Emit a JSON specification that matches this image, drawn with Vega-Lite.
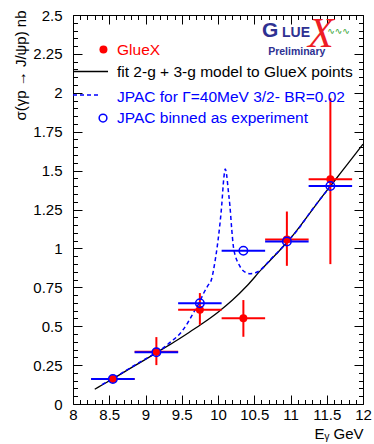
{
  "$schema": "https://vega.github.io/schema/vega-lite/v6.json",
  "width": 290,
  "height": 389,
  "autosize": {"type": "none"},
  "padding": {"left": 73, "top": 15, "right": 11, "bottom": 40},
  "background": "white",
  "config": {
    "view": {"stroke": null},
    "font": "Liberation Sans",
    "axis": {
      "grid": false,
      "domainColor": "black",
      "domainWidth": 1,
      "tickColor": "black",
      "tickWidth": 1,
      "labelColor": "black",
      "titleColor": "black",
      "labelFont": "Liberation Sans",
      "titleFont": "Liberation Sans",
      "labelFontSize": 15,
      "titleFontSize": 15,
      "titleFontWeight": "normal",
      "labelOverlap": false,
      "labelFlush": false
    }
  },
  "datasets": {
    "gluex": [
      {"E": 8.55, "sigma": 0.161, "Elo": 8.25, "Ehi": 8.85, "lo": 0.145, "hi": 0.178},
      {"E": 9.15, "sigma": 0.336, "Elo": 8.85, "Ehi": 9.45, "lo": 0.25, "hi": 0.43},
      {"E": 9.75, "sigma": 0.606, "Elo": 9.45, "Ehi": 10.05, "lo": 0.509, "hi": 0.713},
      {"E": 10.35, "sigma": 0.551, "Elo": 10.05, "Ehi": 10.65, "lo": 0.432, "hi": 0.668},
      {"E": 10.95, "sigma": 1.058, "Elo": 10.65, "Ehi": 11.25, "lo": 0.888, "hi": 1.237},
      {"E": 11.55, "sigma": 1.444, "Elo": 11.25, "Ehi": 11.85, "lo": 0.899, "hi": 1.965}
    ],
    "jpac": [
      {"E": 8.55, "sigma": 0.161, "Elo": 8.25, "Ehi": 8.85},
      {"E": 9.15, "sigma": 0.333, "Elo": 8.85, "Ehi": 9.45},
      {"E": 9.75, "sigma": 0.648, "Elo": 9.45, "Ehi": 10.05},
      {"E": 10.35, "sigma": 0.985, "Elo": 10.05, "Ehi": 10.65},
      {"E": 10.95, "sigma": 1.045, "Elo": 10.65, "Ehi": 11.25},
      {"E": 11.55, "sigma": 1.401, "Elo": 11.25, "Ehi": 11.85}
    ],
    "fit": [
      {"E": 8.3, "sigma": 0.095},
      {"E": 8.4, "sigma": 0.122},
      {"E": 8.5, "sigma": 0.149},
      {"E": 8.6, "sigma": 0.176},
      {"E": 8.8, "sigma": 0.232},
      {"E": 9.0, "sigma": 0.287},
      {"E": 9.2, "sigma": 0.343},
      {"E": 9.4, "sigma": 0.4},
      {"E": 9.6, "sigma": 0.46},
      {"E": 9.8, "sigma": 0.522},
      {"E": 10.0, "sigma": 0.59},
      {"E": 10.2, "sigma": 0.668},
      {"E": 10.4, "sigma": 0.76},
      {"E": 10.6, "sigma": 0.865},
      {"E": 10.8, "sigma": 0.962},
      {"E": 11.0, "sigma": 1.065},
      {"E": 11.2, "sigma": 1.185},
      {"E": 11.4, "sigma": 1.31},
      {"E": 11.6, "sigma": 1.43},
      {"E": 11.8, "sigma": 1.55},
      {"E": 12.0, "sigma": 1.67}
    ],
    "jpaccurve": [
      {"E": 8.4, "sigma": 0.125},
      {"E": 8.6, "sigma": 0.178},
      {"E": 8.8, "sigma": 0.235},
      {"E": 9.0, "sigma": 0.29},
      {"E": 9.2, "sigma": 0.345},
      {"E": 9.35, "sigma": 0.4},
      {"E": 9.48, "sigma": 0.455},
      {"E": 9.58, "sigma": 0.52},
      {"E": 9.66, "sigma": 0.585},
      {"E": 9.74, "sigma": 0.65},
      {"E": 9.8, "sigma": 0.71},
      {"E": 9.86, "sigma": 0.76},
      {"E": 9.91, "sigma": 0.8},
      {"E": 9.96, "sigma": 0.92},
      {"E": 10.0, "sigma": 1.05},
      {"E": 10.05, "sigma": 1.27},
      {"E": 10.08, "sigma": 1.45},
      {"E": 10.1, "sigma": 1.51},
      {"E": 10.12, "sigma": 1.47},
      {"E": 10.14, "sigma": 1.38},
      {"E": 10.165, "sigma": 1.27},
      {"E": 10.19, "sigma": 1.12},
      {"E": 10.21, "sigma": 1.02},
      {"E": 10.24, "sigma": 0.95},
      {"E": 10.28, "sigma": 0.905},
      {"E": 10.34, "sigma": 0.86},
      {"E": 10.44, "sigma": 0.837},
      {"E": 10.55, "sigma": 0.85},
      {"E": 10.65, "sigma": 0.89},
      {"E": 10.72, "sigma": 0.927},
      {"E": 10.8, "sigma": 0.965},
      {"E": 10.855, "sigma": 0.99},
      {"E": 10.95, "sigma": 1.04},
      {"E": 11.1, "sigma": 1.12},
      {"E": 11.3, "sigma": 1.25},
      {"E": 11.5, "sigma": 1.37},
      {"E": 11.6, "sigma": 1.43}
    ],
    "legendtext": [
      {"series": "GlueX", "label": "GlueX", "E": 8.607, "sigma": 2.275},
      {"series": "fit", "label": "fit 2-g + 3-g model to GlueX points", "E": 8.607, "sigma": 2.135},
      {"series": "JPAC", "label": "JPAC for Γ=40MeV 3/2- BR=0.02", "E": 8.607, "sigma": 1.975},
      {"series": "binned", "label": "JPAC binned as experiment", "E": 8.607, "sigma": 1.836}
    ],
    "legendline": [
      {"series": "fit", "Elo": 8.0, "Ehi": 8.483, "sigma": 2.137},
      {"series": "JPAC", "Elo": 8.0, "Ehi": 8.386, "sigma": 1.986}
    ],
    "legendmark": [
      {"series": "GlueX", "E": 8.42, "sigma": 2.278},
      {"series": "binned", "E": 8.414, "sigma": 1.838}
    ],
    "logo": [
      {"part": "G", "label": "G", "E": 10.607, "sigma": 2.361},
      {"part": "LUE", "label": "LUE", "E": 10.883, "sigma": 2.361},
      {"part": "X", "label": "X", "E": 11.42, "sigma": 2.294},
      {"part": "wave", "label": "∿∿∿", "E": 11.662, "sigma": 2.397},
      {"part": "prelim", "label": "Preliminary", "E": 11.086, "sigma": 2.262}
    ]
  },
  "layer": [
    {
      "data": {"name": "fit"},
      "mark": {"type": "line", "color": "black", "strokeWidth": 1.3, "interpolate": "monotone"},
      "encoding": {
        "x": {
          "field": "E", "type": "quantitative",
          "scale": {"domain": [8, 12], "nice": false, "zero": false},
          "axis": {
            "orient": "bottom",
            "values": [8,8.1,8.2,8.3,8.4,8.5,8.6,8.7,8.8,8.9,9,9.1,9.2,9.3,9.4,9.5,9.6,9.7,9.8,9.9,10,10.1,10.2,10.3,10.4,10.5,10.6,10.7,10.8,10.9,11,11.1,11.2,11.3,11.4,11.5,11.6,11.7,11.8,11.9,12],
            "format": "~g",
            "labelExpr": "abs(datum.value*2-round(datum.value*2))<0.001 ? datum.label : ''",
            "tickSize": {"condition": {"test": "abs(datum.value*2-round(datum.value*2))<0.001", "value": -9}, "value": -4.5},
            "labelPadding": 12,
            "title": "Eᵧ GeV",
            "titleAnchor": "end",
            "titleAlign": "right",
            "titleX": 290,
            "titleY": 34,
            "titleBaseline": "alphabetic"
          }
        },
        "y": {
          "field": "sigma", "type": "quantitative",
          "scale": {"domain": [0, 2.5], "nice": false, "zero": false},
          "axis": {
            "orient": "left",
            "values": [0,0.05,0.1,0.15,0.2,0.25,0.3,0.35,0.4,0.45,0.5,0.55,0.6,0.65,0.7,0.75,0.8,0.85,0.9,0.95,1,1.05,1.1,1.15,1.2,1.25,1.3,1.35,1.4,1.45,1.5,1.55,1.6,1.65,1.7,1.75,1.8,1.85,1.9,1.95,2,2.05,2.1,2.15,2.2,2.25,2.3,2.35,2.4,2.45,2.5],
            "format": "~g",
            "labelExpr": "abs(datum.value*4-round(datum.value*4))<0.001 ? datum.label : ''",
            "tickSize": {"condition": {"test": "abs(datum.value*4-round(datum.value*4))<0.001", "value": -9}, "value": -4.5},
            "labelPadding": 20,
            "title": "σ(γp → J/ψp) nb",
            "titleAlign": "right",
            "titleAngle": -90,
            "titleX": -48,
            "titleY": -5,
            "titleBaseline": "alphabetic"
          }
        }
      }
    },
    {
      "data": {"name": "gluex"},
      "mark": {"type": "point", "opacity": 0},
      "encoding": {
        "x": {
          "field": "E", "type": "quantitative",
          "axis": {
            "orient": "top",
            "values": [8,8.1,8.2,8.3,8.4,8.5,8.6,8.7,8.8,8.9,9,9.1,9.2,9.3,9.4,9.5,9.6,9.7,9.8,9.9,10,10.1,10.2,10.3,10.4,10.5,10.6,10.7,10.8,10.9,11,11.1,11.2,11.3,11.4,11.5,11.6,11.7,11.8,11.9,12],
            "labels": false,
            "title": null,
            "tickSize": {"condition": {"test": "abs(datum.value*2-round(datum.value*2))<0.001", "value": -9}, "value": -4.5}
          }
        },
        "y": {
          "field": "sigma", "type": "quantitative",
          "axis": {
            "orient": "right",
            "values": [0,0.05,0.1,0.15,0.2,0.25,0.3,0.35,0.4,0.45,0.5,0.55,0.6,0.65,0.7,0.75,0.8,0.85,0.9,0.95,1,1.05,1.1,1.15,1.2,1.25,1.3,1.35,1.4,1.45,1.5,1.55,1.6,1.65,1.7,1.75,1.8,1.85,1.9,1.95,2,2.05,2.1,2.15,2.2,2.25,2.3,2.35,2.4,2.45,2.5],
            "labels": false,
            "title": null,
            "tickSize": {"condition": {"test": "abs(datum.value*4-round(datum.value*4))<0.001", "value": -9}, "value": -4.5}
          }
        }
      }
    },
    {
      "data": {"name": "jpaccurve"},
      "mark": {"type": "line", "color": "#0000ff", "strokeWidth": 1.5, "strokeDash": [4, 3], "interpolate": "monotone"},
      "encoding": {
        "x": {"field": "E", "type": "quantitative", "axis": null},
        "y": {"field": "sigma", "type": "quantitative", "axis": null}
      }
    },
    {
      "data": {"name": "gluex"},
      "mark": {"type": "rule", "color": "#ff0000", "strokeWidth": 2},
      "encoding": {
        "x": {"field": "Elo", "type": "quantitative", "axis": null},
        "x2": {"field": "Ehi"},
        "y": {"field": "sigma", "type": "quantitative", "axis": null}
      }
    },
    {
      "data": {"name": "gluex"},
      "mark": {"type": "rule", "color": "#ff0000", "strokeWidth": 2},
      "encoding": {
        "x": {"field": "E", "type": "quantitative", "axis": null},
        "y": {"field": "lo", "type": "quantitative", "axis": null},
        "y2": {"field": "hi"}
      }
    },
    {
      "data": {"name": "jpac"},
      "mark": {"type": "rule", "color": "#0000ff", "strokeWidth": 2},
      "encoding": {
        "x": {"field": "Elo", "type": "quantitative", "axis": null},
        "x2": {"field": "Ehi"},
        "y": {"field": "sigma", "type": "quantitative", "axis": null}
      }
    },
    {
      "data": {"name": "gluex"},
      "mark": {"type": "point", "shape": "circle", "filled": true, "color": "#ff0000", "size": 64, "opacity": 1},
      "encoding": {
        "x": {"field": "E", "type": "quantitative", "axis": null},
        "y": {"field": "sigma", "type": "quantitative", "axis": null}
      }
    },
    {
      "data": {"name": "jpac"},
      "mark": {"type": "point", "shape": "circle", "filled": false, "color": "#0000ff", "strokeWidth": 1.5, "size": 72, "opacity": 1},
      "encoding": {
        "x": {"field": "E", "type": "quantitative", "axis": null},
        "y": {"field": "sigma", "type": "quantitative", "axis": null}
      }
    },
    {
      "data": {"name": "legendline"},
      "transform": [{"filter": "datum.series == 'fit'"}],
      "mark": {"type": "rule", "color": "black", "strokeWidth": 1.3},
      "encoding": {
        "x": {"field": "Elo", "type": "quantitative", "axis": null},
        "x2": {"field": "Ehi"},
        "y": {"field": "sigma", "type": "quantitative", "axis": null}
      }
    },
    {
      "data": {"name": "legendline"},
      "transform": [{"filter": "datum.series == 'JPAC'"}],
      "mark": {"type": "rule", "color": "#0000ff", "strokeWidth": 1.5, "strokeDash": [4, 3]},
      "encoding": {
        "x": {"field": "Elo", "type": "quantitative", "axis": null},
        "x2": {"field": "Ehi"},
        "y": {"field": "sigma", "type": "quantitative", "axis": null}
      }
    },
    {
      "data": {"name": "legendmark"},
      "transform": [{"filter": "datum.series == 'GlueX'"}],
      "mark": {"type": "point", "shape": "circle", "filled": true, "color": "#ff0000", "size": 64, "opacity": 1},
      "encoding": {
        "x": {"field": "E", "type": "quantitative", "axis": null},
        "y": {"field": "sigma", "type": "quantitative", "axis": null}
      }
    },
    {
      "data": {"name": "legendmark"},
      "transform": [{"filter": "datum.series == 'binned'"}],
      "mark": {"type": "point", "shape": "circle", "filled": false, "color": "#0000ff", "strokeWidth": 1.5, "size": 60, "opacity": 1},
      "encoding": {
        "x": {"field": "E", "type": "quantitative", "axis": null},
        "y": {"field": "sigma", "type": "quantitative", "axis": null}
      }
    },
    {
      "data": {"name": "legendtext"},
      "mark": {"type": "text", "align": "left", "baseline": "middle", "font": "Liberation Sans", "fontSize": 15.5},
      "encoding": {
        "x": {"field": "E", "type": "quantitative", "axis": null},
        "y": {"field": "sigma", "type": "quantitative", "axis": null},
        "text": {"field": "label"},
        "color": {
          "field": "series", "type": "nominal",
          "scale": {"domain": ["GlueX", "fit", "JPAC", "binned"], "range": ["#ff0000", "#000000", "#0000ff", "#0000ff"]},
          "legend": null
        }
      }
    },
    {
      "data": {"name": "logo"},
      "transform": [{"filter": "datum.part == 'G'"}],
      "mark": {"type": "text", "align": "left", "baseline": "alphabetic", "font": "Liberation Sans", "fontWeight": "bold", "fontSize": 21, "color": "#2e3192"},
      "encoding": {
        "x": {"field": "E", "type": "quantitative", "axis": null},
        "y": {"field": "sigma", "type": "quantitative", "axis": null},
        "text": {"field": "label"}
      }
    },
    {
      "data": {"name": "logo"},
      "transform": [{"filter": "datum.part == 'LUE'"}],
      "mark": {"type": "text", "align": "left", "baseline": "alphabetic", "font": "Liberation Sans", "fontWeight": "bold", "fontSize": 14, "color": "#2e3192"},
      "encoding": {
        "x": {"field": "E", "type": "quantitative", "axis": null},
        "y": {"field": "sigma", "type": "quantitative", "axis": null},
        "text": {"field": "label"}
      }
    },
    {
      "data": {"name": "logo"},
      "transform": [{"filter": "datum.part == 'X'"}],
      "mark": {"type": "text", "align": "center", "baseline": "alphabetic", "font": "Liberation Serif", "fontStyle": "italic", "fontSize": 42, "color": "#ee1c24"},
      "encoding": {
        "x": {"field": "E", "type": "quantitative", "axis": null},
        "y": {"field": "sigma", "type": "quantitative", "axis": null},
        "text": {"field": "label"}
      }
    },
    {
      "data": {"name": "logo"},
      "transform": [{"filter": "datum.part == 'wave'"}],
      "mark": {"type": "text", "align": "center", "baseline": "middle", "font": "DejaVu Sans", "fontSize": 9, "color": "#2ca02c"},
      "encoding": {
        "x": {"field": "E", "type": "quantitative", "axis": null},
        "y": {"field": "sigma", "type": "quantitative", "axis": null},
        "text": {"field": "label"}
      }
    },
    {
      "data": {"name": "logo"},
      "transform": [{"filter": "datum.part == 'prelim'"}],
      "mark": {"type": "text", "align": "center", "baseline": "middle", "font": "Liberation Sans", "fontWeight": "bold", "fontSize": 10.5, "color": "#2e3192"},
      "encoding": {
        "x": {"field": "E", "type": "quantitative", "axis": null},
        "y": {"field": "sigma", "type": "quantitative", "axis": null},
        "text": {"field": "label"}
      }
    }
  ],
  "resolve": {"axis": {"x": "independent", "y": "independent"}}
}
